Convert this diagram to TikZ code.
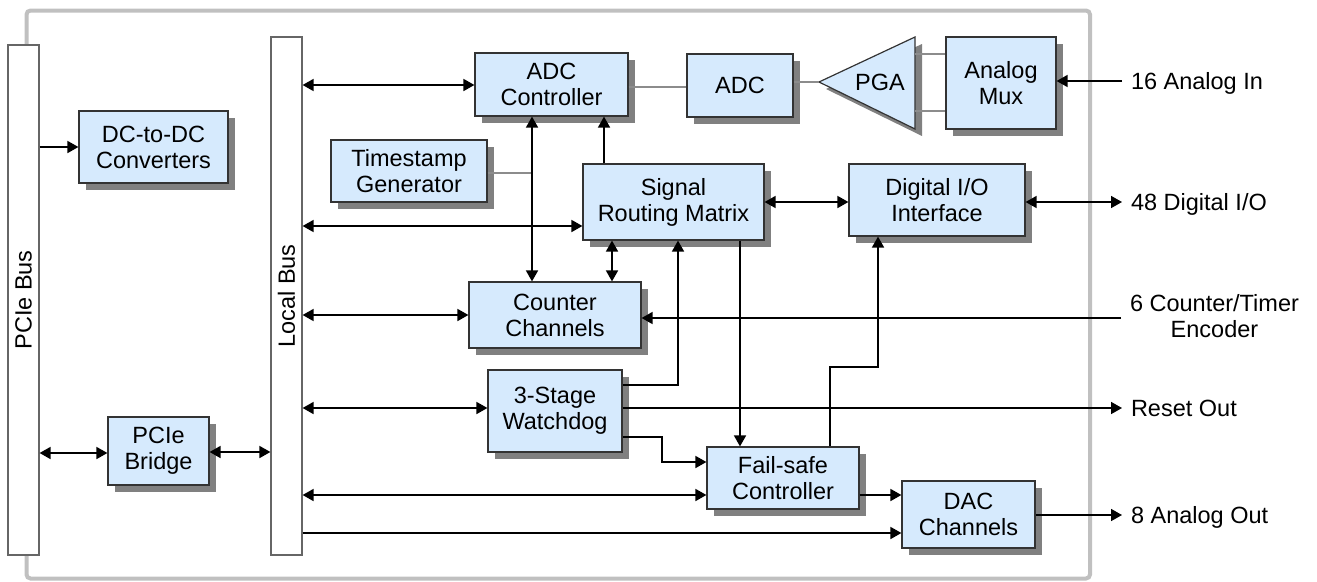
\documentclass[tikz,border=0pt]{standalone}
\usepackage{fontspec}
\setmainfont{Liberation Sans}
\usepackage{graphicx}
\usetikzlibrary{arrows.meta,shadows}
\definecolor{boxblue}{RGB}{214,234,253}
\definecolor{framegray}{RGB}{192,192,192}

\begin{document}
\begin{tikzpicture}[x=1pt,y=-1pt]
        \tikzset{every node/.style={font=\fontsize{23.5}{26}\selectfont},
            block/.style={draw=black!80, line width=1.2pt, fill=boxblue, align=center, inner sep=2pt,
                drop shadow={shadow xshift=7pt, shadow yshift=-7pt, fill=black!50, opacity=1}},
            bus/.style={draw=black!60, line width=1.2pt, fill=white, minimum width=31pt, inner sep=0pt},
            port/.style={anchor=west, inner sep=0pt, outer xsep=9pt, text depth=0pt},
            sig/.style={line width=1.7pt, -{Triangle[length=11pt,width=12pt]}},
            bisig/.style={line width=1.7pt, {Triangle[length=11pt,width=12pt]}-{Triangle[length=11pt,width=12pt]}},
            link/.style={draw=black!45, line width=1.8pt}}
        \useasboundingbox (0,0) rectangle (1317,581);
        \draw[framegray, line width=4pt, rounded corners=4pt] (26.5,10.5) rectangle (1090,578.5);

        \node[bus, minimum height=510pt] (pcie) at (23.5,300) {\rotatebox{90}{PCIe Bus}};
        \node[bus, minimum height=518pt] (lbus) at (286.5,296) {\rotatebox{90}{Local Bus}};

        \node[block, minimum width=149pt, minimum height=72pt] (dcdc) at (153.5,147) {DC-to-DC\\Converters};
        \node[block, minimum width=101pt, minimum height=68pt] (bridge) at (158.5,451) {PCIe\\Bridge};
        \node[block, minimum width=156pt, minimum height=62pt] (tsgen) at (409,171) {Timestamp\\Generator};
        \node[block, minimum width=153pt, minimum height=63pt] (adcctrl) at (551.5,84.5) {ADC\\Controller};
        \node[block, minimum width=106pt, minimum height=63pt] (adc) at (740,85.5) {ADC};
        \node[block, minimum width=110pt, minimum height=92pt] (mux) at (1001,83) {Analog\\Mux};
        \node[block, minimum width=181pt, minimum height=76pt] (srm) at (673.5,202) {Signal\\Routing Matrix};
        \node[block, minimum width=176pt, minimum height=72pt] (dio) at (937,200) {Digital I/O\\Interface};
        \node[block, minimum width=172pt, minimum height=66pt] (cnt) at (555,315) {Counter\\Channels};
        \node[block, minimum width=134pt, minimum height=82pt] (wdog) at (555,411) {3-Stage\\Watchdog};
        \node[block, minimum width=152pt, minimum height=62pt] (fsc) at (783,478) {Fail-safe\\Controller};
        \node[block, minimum width=133pt, minimum height=67pt] (dac) at (968.5,514.5) {DAC\\Channels};

        \path[block] (819,82) -- (915,37) -- (915,129) -- cycle;
        \node (pga) at (880,82) {PGA};
        \coordinate (pgatip) at (819,82);
        \coordinate (pgaup) at (915,54);
        \coordinate (pgalo) at (915,111);
        \coordinate (tsjoin) at (532,173);

        \node[port] (ain) at (1122,81) {16 Analog In};
        \node[port] (dioport) at (1122,202) {48 Digital I/O};
        \node[port, align=center, anchor=north west] (ctport) at (1121,294) {6 Counter/Timer\\Encoder};
        \node[port] (rst) at (1122,408) {Reset Out};
        \node[port] (aout) at (1122,515) {8 Analog Out};

        \draw[link] (adcctrl.east |- 0,87) -- (adc.west |- 0,87);
        \draw[link] (adc.east |- pgatip) -- (pgatip);
        \draw[link] (pgaup) -- (mux.west |- pgaup);
        \draw[link] (pgalo) -- (mux.west |- pgalo);
        \draw[link] (tsgen.east |- tsjoin) -- (tsjoin);

        \draw[sig] (pcie.east |- dcdc) -- (dcdc.west);
        \draw[bisig] (pcie.east |- 0,453) -- (bridge.west |- 0,453);
        \draw[bisig] (bridge.east |- 0,452) -- (lbus.west |- 0,452);
        \draw[bisig] (lbus.east |- 0,85) -- (adcctrl.west |- 0,85);
        \draw[bisig] (lbus.east |- 0,226) -- (srm.west |- 0,226);
        \draw[bisig] (lbus.east |- cnt) -- (cnt.west);
        \draw[bisig] (lbus.east |- 0,408) -- (wdog.west |- 0,408);
        \draw[bisig] (lbus.east |- 0,495) -- (fsc.west |- 0,495);
        \draw[sig] (lbus.east |- 0,533) -- (dac.west |- 0,533);

        \draw[bisig] (adcctrl.south -| tsjoin) -- (cnt.north -| tsjoin);
        \draw[sig] (srm.north -| 604,0) -- (adcctrl.south -| 604,0);
        \draw[bisig] (srm.south -| 612,0) -- (cnt.north -| 612,0);
        \draw[bisig] (srm.east) -- (dio.west |- srm.east);
        \draw[sig] (wdog.east |- 0,385) -| (srm.south -| 678,0);
        \draw[sig] (wdog.east |- 0,437) -- (662,437) |- (fsc.west |- 0,462);
        \draw[sig] (srm.south -| 740,0) -- (fsc.north -| 740,0);
        \draw[sig] (fsc.north -| 830,0) |- (878,367) -- (dio.south -| 878,0);
        \draw[sig] (fsc.east |- 0,495) -- (dac.west |- 0,495);

        \draw[sig] (ain.west) -- (mux.east |- ain.west);
        \draw[bisig] (dio.east |- dioport.west) -- (dioport.west);
        \draw[sig] (ctport.west |- 0,318) -- (cnt.east |- 0,318);
        \draw[sig] (wdog.east |- rst.west) -- (rst.west);
        \draw[sig] (dac.east |- aout.west) -- (aout.west);
    \end{tikzpicture}
\end{document}
